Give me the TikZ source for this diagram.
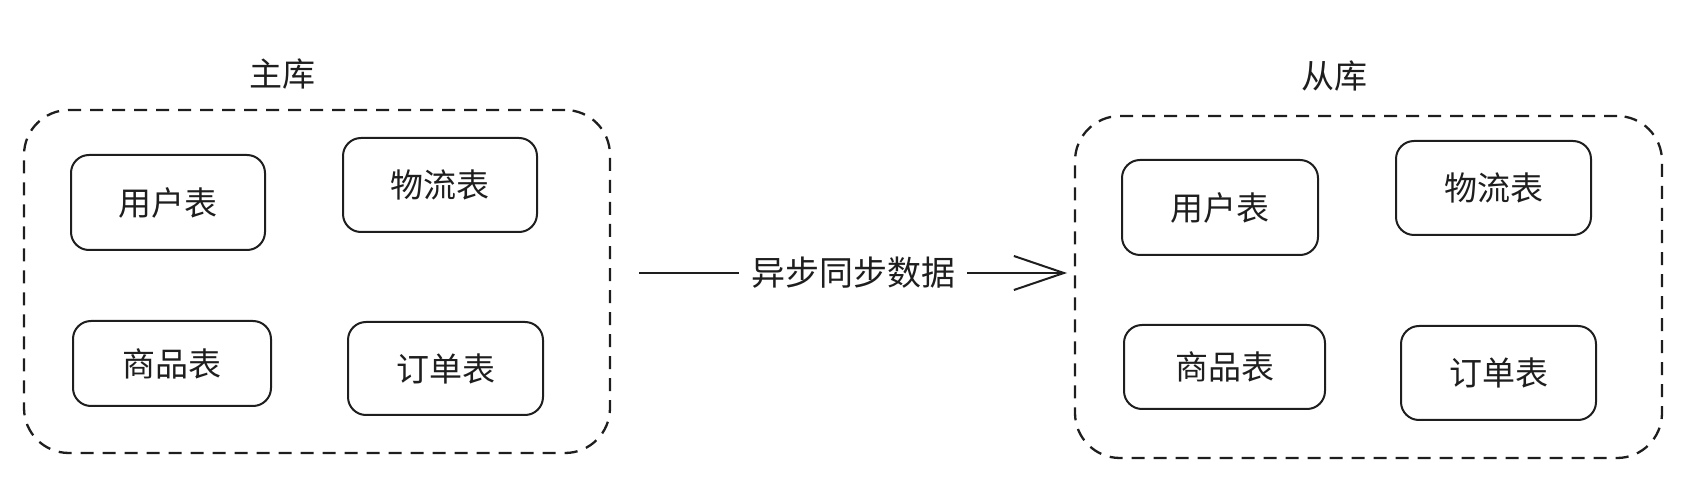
\documentclass[tikz,border=0pt]{standalone}
\usepackage{fontspec}
\newfontfamily\cjk{Noto Sans CJK SC}
\usetikzlibrary{arrows.meta}
\definecolor{ink}{HTML}{1E1E1E}
\begin{document}
\begin{tikzpicture}[x=1pt,y=-1pt,
  txt/.style={text=ink, font=\cjk\fontsize{33}{40}\selectfont},
  tbl/.style={txt, draw=ink, line width=2pt, rounded corners=18pt, inner sep=0pt},
  db/.style={draw=ink, line width=2.3pt, dash pattern=on 13pt off 9pt, rounded corners=45pt, inner sep=0pt},
  arr/.style={draw=ink, line width=2pt, -{Straight Barb[length=50pt,width=34pt,line width=2pt]}}
]
\useasboundingbox (0,0) rectangle (1698,502);
% containers
\node[db, minimum width=586pt, minimum height=343pt] (cL) at (317,281.5) {};
\node[db, minimum width=587pt, minimum height=342pt] (cR) at (1368.5,287) {};
\node[txt] (lL) at (282,74) {主库};
\node[txt] (lR) at (1334,76) {从库};
% left tables
\node[tbl, minimum width=194pt, minimum height=95pt] (uL) at (168,202.5) {用户表};
\node[tbl, minimum width=194pt, minimum height=94pt] (wL) at (440,185) {物流表};
\node[tbl, minimum width=198pt, minimum height=85pt] (sL) at (172,363.5) {商品表};
\node[tbl, minimum width=195pt, minimum height=93pt] (oL) at (445.5,368.5) {订单表};
% right tables
\node[tbl, minimum width=196pt, minimum height=95pt] (uR) at (1220,207.5) {用户表};
\node[tbl, minimum width=195pt, minimum height=94pt] (wR) at (1493.5,188) {物流表};
\node[tbl, minimum width=201pt, minimum height=84pt] (sR) at (1224.5,367) {商品表};
\node[tbl, minimum width=195pt, minimum height=94pt] (oR) at (1498.5,373) {订单表};
% arrow
\coordinate (s) at (639,273);
\coordinate (t) at (1067,273);
\draw[arr] (s) -- node[txt, font=\cjk\fontsize{34}{40}\selectfont, fill=white, inner sep=12pt] (sync) {异步同步数据} (t);
\end{tikzpicture}
\end{document}
